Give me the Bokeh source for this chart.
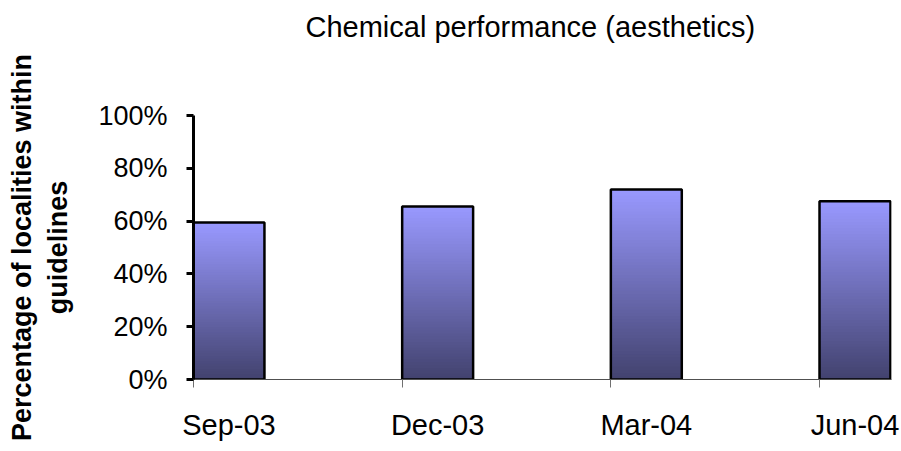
from bokeh.plotting import figure
from bokeh.models import Range1d, FixedTicker, PrintfTickFormatter
from bokeh.embed import file_html
from bokeh.resources import INLINE

# ---- data ----
categories = ["Sep-03", "Dec-03", "Mar-04", "Jun-04"]
values = [59.5, 65.5, 72.0, 67.5]          # percent of localities within guidelines
y_ticks = [0, 20, 40, 60, 80, 100]
title_text = "Chemical performance (aesthetics)"
y_label = "Percentage of localities within\nguidelines"

# ---- style ----
FONT = "Liberation Sans"
BAR_W = 0.34
TOP_RGB = (153, 153, 255)
BOT_RGB = (66, 66, 110)
N_STEPS = 60

xs = list(range(len(categories)))

p = figure(width=901, height=451, output_backend="svg", toolbar_location=None,
           x_range=Range1d(-BAR_W / 2, len(categories) - 1 + BAR_W / 2 + 0.005),
           y_range=Range1d(0, 100),
           min_border_left=193, min_border_right=10,
           min_border_top=115, min_border_bottom=72)

p.background_fill_color = "white"
p.border_fill_color = "white"
p.outline_line_color = None
p.grid.visible = False

# gradient bars: stacked overlapping slices, colour interpolated bottom -> top
lefts, rights, bottoms, tops, colors = [], [], [], [], []
for x, v in zip(xs, values):
    step = v / N_STEPS
    for k in range(N_STEPS):
        f = (k + 0.5) / N_STEPS
        r = round(BOT_RGB[0] + (TOP_RGB[0] - BOT_RGB[0]) * f)
        g = round(BOT_RGB[1] + (TOP_RGB[1] - BOT_RGB[1]) * f)
        b = round(BOT_RGB[2] + (TOP_RGB[2] - BOT_RGB[2]) * f)
        lefts.append(x - BAR_W / 2)
        rights.append(x + BAR_W / 2)
        bottoms.append(step * k)
        tops.append(min(v, step * (k + 1) + 0.6))
        colors.append("#%02x%02x%02x" % (r, g, b))
p.quad(left=lefts, right=rights, bottom=bottoms, top=tops,
       fill_color=colors, line_color=None)

# bar outlines
p.quad(left=[x - BAR_W / 2 for x in xs], right=[x + BAR_W / 2 for x in xs],
       bottom=[0] * len(xs), top=values,
       fill_color=None, line_color="black", line_width=2.5)

# title (two trailing blank lines push it up to the top of the page)
p.title.text = title_text + "\n\n"
p.title.align = "left"
p.title.vertical_align = "top"
p.title.text_font = FONT
p.title.text_font_style = "normal"
p.title.text_font_size = "29px"
p.title.text_line_height = 1.11
p.title.text_color = "black"
p.title.standoff = 0
p.title.offset = 112

# x axis
xa = p.xaxis[0]
xa.ticker = FixedTicker(ticks=xs, minor_ticks=[x - BAR_W / 2 for x in xs])
xa.major_label_overrides = {x: c for x, c in zip(xs, categories)}
xa.axis_line_color = "#505050"
xa.axis_line_width = 1
xa.major_tick_out = 0
xa.major_tick_in = 0
xa.minor_tick_out = 8
xa.minor_tick_in = 0
xa.minor_tick_line_color = "#707070"
xa.minor_tick_line_width = 1
xa.major_label_standoff = 21
xa.major_label_text_font = FONT
xa.major_label_text_font_size = "29px"
xa.major_label_text_color = "black"

# y axis
ya = p.yaxis[0]
ya.ticker = FixedTicker(ticks=y_ticks)
ya.formatter = PrintfTickFormatter(format="%d%%")
ya.axis_line_color = "black"
ya.axis_line_width = 3
ya.major_tick_out = 7
ya.major_tick_in = 0
ya.major_tick_line_color = "black"
ya.major_tick_line_width = 3
ya.minor_tick_out = 0
ya.minor_tick_in = 0
ya.major_label_standoff = 19
ya.major_label_text_font = FONT
ya.major_label_text_font_size = "27px"
ya.major_label_text_color = "black"
ya.axis_label = y_label
ya.axis_label_text_font = FONT
ya.axis_label_text_font_style = "bold"
ya.axis_label_text_font_size = "27px"
ya.axis_label_text_color = "black"
ya.axis_label_standoff = 22

open("out.html", "w").write(file_html(p, INLINE))
